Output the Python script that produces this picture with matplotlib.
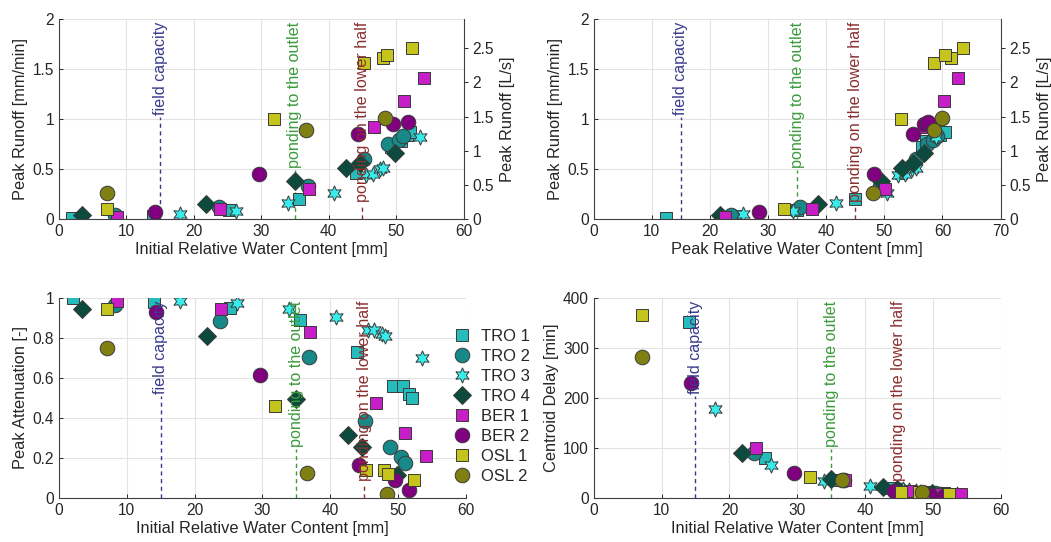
import numpy as np
import matplotlib
matplotlib.use('Agg')
import matplotlib.pyplot as plt
import matplotlib.transforms as mtransforms

plt.rcParams['font.family'] = ['Liberation Sans', 'DejaVu Sans']

nan = np.nan

# series names, in legend order
names = ['TRO 1', 'TRO 2', 'TRO 3', 'TRO 4', 'BER 1', 'BER 2', 'OSL 1', 'OSL 2']

# initial relative water content [mm]
tro1_init = [2.0, 14.0, 25.2, 35.6, 44.0, 49.3, 50.7, 51.6, 52.1]
tro2_init = [8.3, 23.7, 36.9, 45.2, 48.8, 50.4, 51.0]
tro3_init = [17.9, 26.2, 34.0, 40.8, 45.6, 46.5, 47.6, 48.1, 53.6]
tro4_init = [3.4, 21.8, 35.0, 42.6, 44.7, 49.9]
ber1_init = [8.6, 23.9, 37.1, 46.7, 51.1, 54.2]
ber2_init = [14.3, 29.6, 44.3, 49.6, 51.7]
osl1_init = [7.1, 31.9, 45.3, 48.0, 48.6, 52.4]
osl2_init = [7.1, 36.6, 48.4]

# peak relative water content [mm]
tro1_peak = [12.4, 24.3, 35.0, 44.9, 52.8, 56.5, 57.2, 59.5, 60.4]
tro2_peak = [23.6, 35.5, 49.3, 55.4, 57.4, 58.4, 59.0]
tro3_peak = [25.6, 34.2, 41.6, 50.5, 52.3, 53.5, 54.8, 55.4, 58.9]
tro4_peak = [21.7, 38.5, 49.5, 53.1, 54.9, 56.9]
ber1_peak = [22.5, 37.5, 50.1, 57.0, 60.2, 62.6]
ber2_peak = [28.4, 48.2, 54.9, 56.9, 57.5]
osl1_peak = [32.8, 52.8, 58.5, 61.4, 60.4, 63.5]
osl2_peak = [48.0, 58.5, 60.0]

# peak runoff [mm/min]
tro1_runoff = [0.01, 0.03, 0.09, 0.20, 0.46, 0.72, 0.78, 0.84, 0.87]
tro2_runoff = [0.04, 0.12, 0.33, 0.60, 0.75, 0.79, 0.83]
tro3_runoff = [0.05, 0.08, 0.16, 0.26, 0.44, 0.45, 0.50, 0.51, 0.82]
tro4_runoff = [0.04, 0.15, 0.38, 0.51, 0.56, 0.66]
ber1_runoff = [0.02, 0.10, 0.30, 0.92, 1.18, 1.41]
ber2_runoff = [0.07, 0.45, 0.85, 0.95, 0.97]
osl1_runoff = [0.10, 1.00, 1.56, 1.61, 1.64, 1.71]
osl2_runoff = [0.26, 0.89, 1.01]

# peak attenuation [-]
tro1_atten = [1.0, 0.98, 0.95, 0.89, 0.73, 0.56, 0.56, 0.52, 0.50]
tro2_atten = [0.965, 0.885, 0.705, 0.385, 0.255, 0.205, 0.175]
tro3_atten = [0.985, 0.975, 0.945, 0.905, 0.84, 0.84, 0.82, 0.81, 0.70]
tro4_atten = [0.945, 0.81, 0.495, 0.315, 0.255, 0.115]
ber1_atten = [0.985, 0.945, 0.83, 0.475, 0.325, 0.21]
ber2_atten = [0.93, 0.615, 0.165, 0.09, 0.04]
osl1_atten = [0.945, 0.46, 0.14, 0.14, 0.12, 0.09]
osl2_atten = [0.75, 0.125, 0.02]

# centroid delay [min]
tro1_delay = [nan, 352, 80, 35, 20, 12, 10, 9, 8]
tro2_delay = [nan, 90, 36, 15, 10, 9, 8]
tro3_delay = [178, 66, 34, 24, 18, 16, 14, 12, 8]
tro4_delay = [nan, 90, 38, 22, 18, 10]
ber1_delay = [nan, 100, 35, 14, 8, 7]
ber2_delay = [230, 50, 14, 6, 4]
osl1_delay = [366, 42, 12, 11, 10, 8]
osl2_delay = [281, 36, 12]

init_wc = [tro1_init, tro2_init, tro3_init, tro4_init, ber1_init, ber2_init, osl1_init, osl2_init]
peak_wc = [tro1_peak, tro2_peak, tro3_peak, tro4_peak, ber1_peak, ber2_peak, osl1_peak, osl2_peak]
runoff = [tro1_runoff, tro2_runoff, tro3_runoff, tro4_runoff, ber1_runoff, ber2_runoff, osl1_runoff, osl2_runoff]
atten = [tro1_atten, tro2_atten, tro3_atten, tro4_atten, ber1_atten, ber2_atten, osl1_atten, osl2_atten]
delay = [tro1_delay, tro2_delay, tro3_delay, tro4_delay, ber1_delay, ber2_delay, osl1_delay, osl2_delay]

# threshold lines
thr_x = [15, 35, 45]
thr_labels = ['field capacity', 'ponding to the outlet', 'ponding on the lower half']
thr_colors = ['#3a3a8c', '#3c9a3c', '#8a2f2f']

markers = ['s', 'o', (6, 1, 0), 'D', 's', 'o', 's', 'o']
msizes = [9, 10.5, 11, 9, 9, 10.5, 9, 10.5]
colors = ['#27bcbc', '#178989', '#38ecec', '#0c4a3e', '#c81ec8', '#800080', '#c4c41c', '#7f7f12']
edge = '#3a3a3a'
txt = '#262626'
lscale = 2.93  # mm/min -> L/s
fs = 11.8
tfs = 11.2

fig = plt.figure(figsize=(10.51, 5.42), dpi=100)
ax1 = fig.add_axes([0.0561, 0.596, 0.385, 0.369])
ax2 = fig.add_axes([0.565, 0.596, 0.387, 0.369])
ax3 = fig.add_axes([0.0561, 0.0812, 0.387, 0.369])
ax4 = fig.add_axes([0.565, 0.0812, 0.387, 0.369])


def style(ax):
    ax.grid(True, color='#e3e3e3', lw=0.8)
    ax.set_axisbelow(True)
    for s in ['top', 'right']:
        ax.spines[s].set_visible(False)
    for s in ['left', 'bottom']:
        ax.spines[s].set_color('#404040')
    ax.tick_params(direction='in', length=3, colors=txt, labelsize=tfs, width=0.7)


def scatter(ax, xs, ys):
    hs = []
    for i in range(8):
        h, = ax.plot(xs[i], ys[i], ls='none', marker=markers[i], ms=msizes[i],
                     mfc=colors[i], mec=edge, mew=0.7, label=names[i])
        hs.append(h)
    return hs


def right_axis(ax):
    r = ax.twinx()
    r.set_ylim(0, lscale)
    r.set_yticks([0, 0.5, 1, 1.5, 2, 2.5])
    r.set_yticklabels(['0', '0.5', '1', '1.5', '2', '2.5'])
    for s in ['top', 'left', 'bottom']:
        r.spines[s].set_visible(False)
    r.spines['right'].set_color('#404040')
    r.tick_params(direction='out', length=3, colors=txt, labelsize=tfs, width=0.7)
    r.set_ylabel('Peak Runoff [L/s]', fontsize=fs, color=txt, labelpad=4)


texts = []
for ax in [ax1, ax2, ax3, ax4]:
    style(ax)
    trans = mtransforms.blended_transform_factory(ax.transData, ax.transAxes)
    for xv, lab, c in zip(thr_x, thr_labels, thr_colors):
        t = ax.text(xv, 0.985, lab, transform=trans, rotation=90, ha='center', va='top',
                    color=c, fontsize=11.6)
        texts.append((ax, t, xv, c))

scatter(ax1, init_wc, runoff)
ax1.set_xlim(0, 60)
ax1.set_ylim(0, 2)
ax1.set_yticks([0, 0.5, 1, 1.5, 2])
ax1.set_yticklabels(['0', '0.5', '1', '1.5', '2'])
ax1.set_xlabel('Initial Relative Water Content [mm]', fontsize=fs, color=txt, labelpad=2)
ax1.set_ylabel('Peak Runoff [mm/min]', fontsize=fs, color=txt, labelpad=3)
right_axis(ax1)

scatter(ax2, peak_wc, runoff)
ax2.set_xlim(0, 70)
ax2.set_ylim(0, 2)
ax2.set_yticks([0, 0.5, 1, 1.5, 2])
ax2.set_yticklabels(['0', '0.5', '1', '1.5', '2'])
ax2.set_xlabel('Peak Relative Water Content [mm]', fontsize=fs, color=txt, labelpad=2)
ax2.set_ylabel('Peak Runoff [mm/min]', fontsize=fs, color=txt, labelpad=3)
right_axis(ax2)

hs = scatter(ax3, init_wc, atten)
ax3.set_xlim(0, 60)
ax3.set_ylim(0, 1)
ax3.set_yticks([0, 0.2, 0.4, 0.6, 0.8, 1])
ax3.set_yticklabels(['0', '0.2', '0.4', '0.6', '0.8', '1'])
ax3.set_xlabel('Initial Relative Water Content [mm]', fontsize=fs, color=txt, labelpad=2)
ax3.set_ylabel('Peak Attenuation [-]', fontsize=fs, color=txt, labelpad=3)
leg = fig.legend(handles=hs, loc='upper left', bbox_to_anchor=(0.416, 0.421), frameon=False,
                 fontsize=12, handletextpad=0.55, labelspacing=0.3, handlelength=1.2)
for t in leg.get_texts():
    t.set_color(txt)

scatter(ax4, init_wc, delay)
ax4.set_xlim(0, 60)
ax4.set_ylim(0, 400)
ax4.set_xlabel('Initial Relative Water Content [mm]', fontsize=fs, color=txt, labelpad=2)
ax4.set_ylabel('Centroid Delay [min]', fontsize=fs, color=txt, labelpad=3)

# dashed lines run from the bottom up to where the label starts
fig.canvas.draw()
r = fig.canvas.get_renderer()
for ax, t, xv, c in texts:
    bb = t.get_window_extent(r)
    ab = ax.get_window_extent(r)
    top = (bb.y0 - ab.y0) / ab.height - 0.01
    ax.axvline(xv, 0, top, color=c, ls=(0, (3, 2.5)), lw=1, zorder=1)

fig.savefig('out.png', dpi=100)
